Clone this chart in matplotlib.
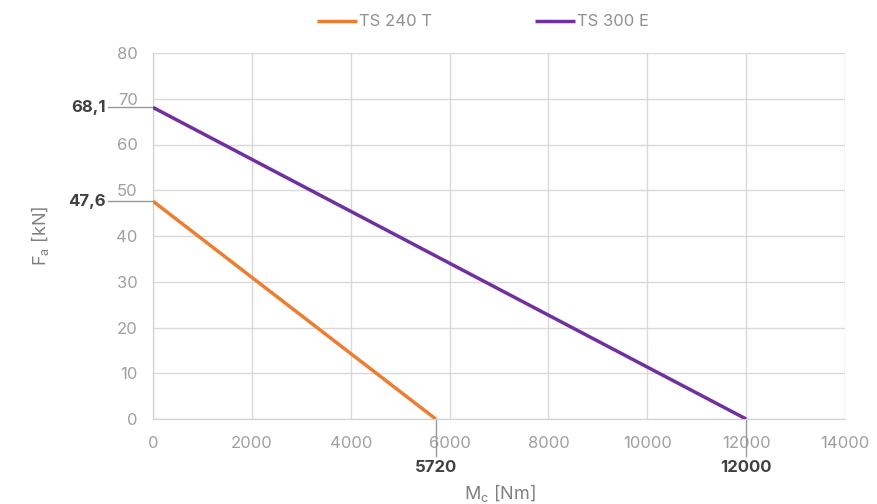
import matplotlib
matplotlib.use('Agg')
import matplotlib.pyplot as plt
import matplotlib.transforms as mtransforms

# データ
torque_240 = [0, 5720]
force_240 = [47.6, 0]
torque_300 = [0, 12000]
force_300 = [68.1, 0]
series_names = ['TS 240 T', 'TS 300 E']
series_colors = ['#ED7D31', '#7030A0']
y_marks = [68.1, 47.6]
y_mark_labels = ['68,1', '47,6']
x_marks = [5720, 12000]
x_mark_labels = ['5720', '12000']

plt.rcParams['font.family'] = ['Inter', 'DejaVu Sans']

fig = plt.figure(figsize=(8.77, 5.04), dpi=100)
ax = fig.add_axes([153 / 877, 1 - 419 / 504, 692 / 877, 366 / 504])

ax.plot(torque_240, force_240, color=series_colors[0], lw=2.5, label=series_names[0],
        solid_capstyle='butt', zorder=3)
ax.plot(torque_300, force_300, color=series_colors[1], lw=2.5, label=series_names[1],
        solid_capstyle='butt', zorder=3)

ax.set_xlim(0, 14000)
ax.set_ylim(0, 80)
ax.set_xticks(range(0, 14001, 2000))
ax.set_yticks(range(0, 81, 10))
ax.grid(True, color='#d9d9d9', lw=1)
ax.set_axisbelow(True)
for side in ['top', 'right']:
    ax.spines[side].set_visible(False)
for side in ['left', 'bottom']:
    ax.spines[side].set_color('#d0d0d0')
ax.tick_params(length=0, colors='#a0a0a0', labelsize=12)
ax.tick_params(axis='y', pad=11)
ax.tick_params(axis='x', pad=12)

# 注記線（軸の外側）
tr_y = mtransforms.blended_transform_factory(fig.transFigure, ax.transData)
for val, lab in zip(y_marks, y_mark_labels):
    ax.plot([108 / 877, 153 / 877], [val, val], color='#999999', lw=1,
            transform=tr_y, clip_on=False)
    ax.text(106 / 877, val, lab, transform=tr_y, ha='right', va='center',
            fontsize=12, fontweight='bold', color='#404040')

tr_x = mtransforms.blended_transform_factory(ax.transData, fig.transFigure)
for val, lab in zip(x_marks, x_mark_labels):
    ax.plot([val, val], [1 - 419 / 504, 1 - 456 / 504], color='#999999', lw=1,
            transform=tr_x, clip_on=False)
    ax.text(val, 1 - 467 / 504, lab, transform=tr_x, ha='center', va='center',
            fontsize=12, fontweight='bold', color='#404040')

# 軸ラベル
fig.text(500 / 877, 1 - 493 / 504, r'M$_\mathregular{c}$ [Nm]', ha='center', va='center',
         fontsize=13, color='#808080')
fig.text(40 / 877, 1 - 236 / 504, r'F$_\mathregular{a}$ [kN]', ha='center', va='center',
         rotation=90, fontsize=13, color='#808080')

leg = fig.legend(loc='center', bbox_to_anchor=(483 / 877, 1 - 22 / 504), ncol=2,
                 frameon=False, fontsize=12, handlelength=2.4, handletextpad=0.1,
                 columnspacing=6.2)
for t in leg.get_texts():
    t.set_color('#909090')

fig.savefig('out.png', dpi=100)
